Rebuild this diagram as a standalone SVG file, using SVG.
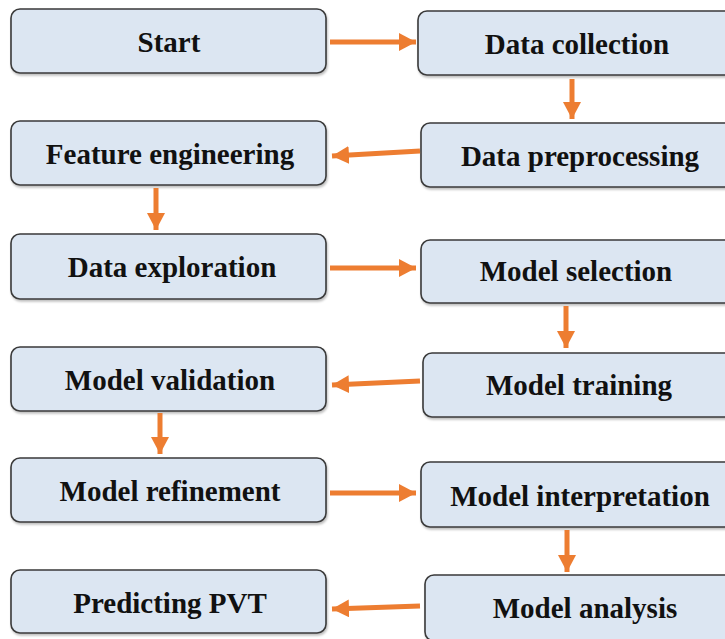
<svg xmlns="http://www.w3.org/2000/svg" width="725" height="639" viewBox="0 0 725 639">
<defs>
<marker id="ah" markerUnits="userSpaceOnUse" markerWidth="18" markerHeight="18" refX="17" refY="9" orient="auto">
<path d="M0,0 L17,9 L0,18 Z" fill="#ED7D31"/>
</marker>
<filter id="sh" x="-5%" y="-10%" width="110%" height="130%">
<feDropShadow dx="1" dy="2" stdDeviation="1" flood-color="#000" flood-opacity="0.25"/>
</filter>
</defs>
<style>
.box{fill:#DCE6F2;stroke:#3a3a3a;stroke-width:1.6;filter:url(#sh)}
.lbl{font-family:"Liberation Serif","Times New Roman",serif;font-weight:bold;font-size:29px;fill:#111;text-anchor:middle}
.con{stroke:#ED7D31;stroke-width:5;fill:none;marker-end:url(#ah)}
</style>
<rect width="725" height="639" fill="#fff"/>
<g id="start"><rect class="box" x="11" y="9" width="315" height="64" rx="9"/><text class="lbl" x="169" y="52">Start</text></g>
<g id="data-collection"><rect class="box" x="418" y="11" width="320" height="64" rx="9"/><text class="lbl" x="577" y="54">Data collection</text></g>
<g id="data-preprocessing"><rect class="box" x="421" y="123" width="320" height="64" rx="9"/><text class="lbl" x="580" y="166">Data preprocessing</text></g>
<g id="feature-engineering"><rect class="box" x="11" y="121" width="315" height="64" rx="9"/><text class="lbl" x="170" y="164">Feature engineering</text></g>
<g id="data-exploration"><rect class="box" x="11" y="234" width="315" height="65" rx="9"/><text class="lbl" x="172" y="277">Data exploration</text></g>
<g id="model-selection"><rect class="box" x="421" y="240" width="320" height="63" rx="9"/><text class="lbl" x="576" y="281">Model selection</text></g>
<g id="model-training"><rect class="box" x="423" y="353" width="320" height="64" rx="9"/><text class="lbl" x="579" y="395">Model training</text></g>
<g id="model-validation"><rect class="box" x="11" y="347" width="315" height="64" rx="9"/><text class="lbl" x="170" y="390">Model validation</text></g>
<g id="model-refinement"><rect class="box" x="11" y="458" width="315" height="64" rx="9"/><text class="lbl" x="170" y="501">Model refinement</text></g>
<g id="model-interpretation"><rect class="box" x="421" y="462" width="320" height="65" rx="9"/><text class="lbl" x="580" y="506">Model interpretation</text></g>
<g id="model-analysis"><rect class="box" x="425" y="575" width="320" height="66" rx="9"/><text class="lbl" x="585" y="618">Model analysis</text></g>
<g id="predicting-pvt"><rect class="box" x="11" y="570" width="315" height="63" rx="9"/><text class="lbl" x="170" y="613">Predicting PVT</text></g>
<g id="connectors">
<line class="con" x1="330" y1="42" x2="416" y2="42"/>
<line class="con" x1="572" y1="79" x2="572" y2="119"/>
<line class="con" x1="420" y1="151" x2="332" y2="156"/>
<line class="con" x1="156" y1="188" x2="156" y2="230"/>
<line class="con" x1="330" y1="268" x2="416" y2="268"/>
<line class="con" x1="566" y1="306" x2="566" y2="348"/>
<line class="con" x1="420" y1="381" x2="332" y2="385"/>
<line class="con" x1="160" y1="413" x2="160" y2="454"/>
<line class="con" x1="330" y1="493" x2="416" y2="493"/>
<line class="con" x1="567" y1="530" x2="567" y2="572"/>
<line class="con" x1="420" y1="606" x2="332" y2="609"/>
</g>
</svg>
